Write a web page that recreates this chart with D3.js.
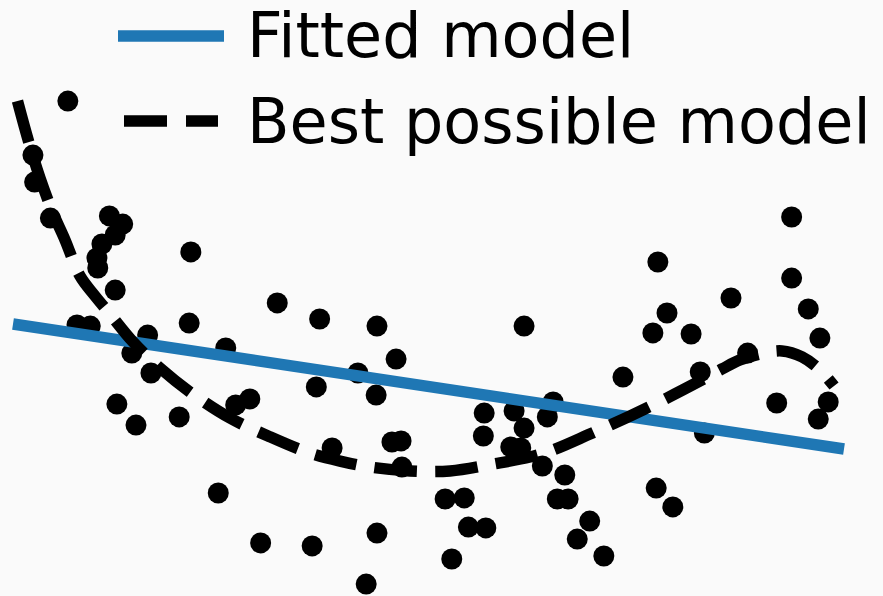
<!DOCTYPE html>
<html>
<head>
<meta charset="utf-8">
<script src="https://cdn.jsdelivr.net/npm/d3@7"></script>
<style>
  html, body { margin: 0; padding: 0; background: #fafafa; }
  svg { display: block; }
</style>
</head>
<body>
<svg id="chart" width="883" height="596"></svg>
<script>
// Noisy samples
const sampleX = [0.066, 0.024, 0.026, 0.045, 0.116, 0.132, 0.123, 0.107, 0.101, 0.102,
  0.123, 0.214, 0.077, 0.093, 0.162, 0.143, 0.166, 0.212, 0.256, 0.125,
  0.148, 0.200, 0.247, 0.298, 0.318, 0.369, 0.365, 0.268, 0.285, 0.438,
  0.461, 0.415, 0.437, 0.384, 0.456, 0.467, 0.468, 0.360, 0.438, 0.425,
  0.520, 0.543, 0.548, 0.569, 0.528, 0.567, 0.566, 0.615, 0.603, 0.615,
  0.643, 0.650, 0.599, 0.611, 0.637, 0.664, 0.655, 0.668, 0.694, 0.679,
  0.711, 0.734, 0.776, 0.787, 0.770, 0.816, 0.827, 0.832, 0.774, 0.794,
  0.864, 0.884, 0.937, 0.937, 0.957, 0.971, 0.919, 0.981, 0.969];
const sampleY = [1.993, 1.633, 1.453, 1.213, 1.227, 1.173, 1.100, 1.040, 0.947, 0.880,
  0.733, 0.987, 0.500, 0.493, 0.433, 0.313, 0.180, 0.513, 0.347, -0.027,
  -0.167, -0.113, -0.620, -0.953, 0.647, 0.540, 0.087, -0.033, 0.007, 0.493,
  0.273, 0.180, 0.033, -0.320, -0.280, -0.273, -0.447, -0.973, -0.887, -1.227,
  -0.660, -0.653, -0.847, -0.853, -1.060, -0.087, -0.240, 0.493, -0.073, -0.187,
  -0.113, -0.013, -0.313, -0.320, -0.440, -0.500, -0.660, -0.660, -0.807, -0.927,
  -1.040, 0.153, 0.920, 0.580, 0.447, 0.440, 0.187, -0.220, -0.587, -0.713,
  0.680, 0.313, 1.220, 0.813, 0.607, 0.413, -0.020, -0.013, -0.127];

// Fitted linear model (end points)
const fitX = [0, 1];
const fitY = [0.507, -0.327];

// Best possible model
const bestX = [0.0054, 0.0193, 0.0325, 0.0481, 0.0626, 0.0806, 0.0987, 0.1167, 0.1444, 0.1769,
  0.213, 0.2611, 0.3069, 0.3538, 0.3935, 0.4296, 0.4777, 0.5259, 0.5776, 0.6221,
  0.6498, 0.6943, 0.7401, 0.787, 0.8267, 0.8532, 0.8748, 0.8989, 0.9254, 0.9495,
  0.9711, 0.988];
const bestY = [1.993, 1.713, 1.48, 1.247, 1.067, 0.827, 0.693, 0.573, 0.387, 0.213,
  0.053, -0.12, -0.24, -0.347, -0.407, -0.447, -0.473, -0.473, -0.427, -0.38,
  -0.333, -0.227, -0.113, 0.013, 0.127, 0.207, 0.267, 0.307, 0.327, 0.287,
  0.2, 0.093];

const legendLabels = ["Fitted model", "Best possible model"];

const svg = d3.select("#chart");
const W = 883, H = 596;

svg.append("rect").attr("width", W).attr("height", H).attr("fill", "#fafafa");

const x = d3.scaleLinear().domain([0, 1]).range([13, 844]);
const y = d3.scaleLinear().domain([-1.3, 2.6]).range([595, 10]);

const LW = 11.5;
const DASH = "42.5,18.4";

// points
svg.append("g").selectAll("circle")
  .data(d3.range(sampleX.length))
  .join("circle")
  .attr("cx", i => x(sampleX[i]))
  .attr("cy", i => y(sampleY[i]))
  .attr("r", 10.5)
  .attr("fill", "#000");

// fitted model
const line = d3.line().x(d => x(d[0])).y(d => y(d[1]));
svg.append("path")
  .attr("d", line(d3.zip(fitX, fitY)))
  .attr("fill", "none")
  .attr("stroke", "#1f77b4")
  .attr("stroke-width", LW);

// best possible model
const smooth = d3.line().x(d => x(d[0])).y(d => y(d[1])).curve(d3.curveCatmullRom.alpha(0.5));
svg.append("path")
  .attr("d", smooth(d3.zip(bestX, bestY)))
  .attr("fill", "none")
  .attr("stroke", "#000")
  .attr("stroke-width", LW)
  .attr("stroke-dasharray", DASH);

// legend
const legend = svg.append("g");
const rows = [
  { label: legendLabels[0], color: "#1f77b4", dash: null, y: 36, baseline: 57 },
  { label: legendLabels[1], color: "#000", dash: "43,19", y: 121, baseline: 143 }
];
rows.forEach(r => {
  legend.append("line")
    .attr("x1", r.dash ? 124 : 118).attr("x2", r.dash ? 218 : 224)
    .attr("y1", r.y).attr("y2", r.y)
    .attr("stroke", r.color)
    .attr("stroke-width", LW)
    .attr("stroke-dasharray", r.dash);
  legend.append("text")
    .attr("x", 247)
    .attr("y", r.baseline)
    .attr("font-family", "DejaVu Sans")
    .attr("font-size", 62)
    .attr("fill", "#000")
    .text(r.label);
});
</script>
</body>
</html>
